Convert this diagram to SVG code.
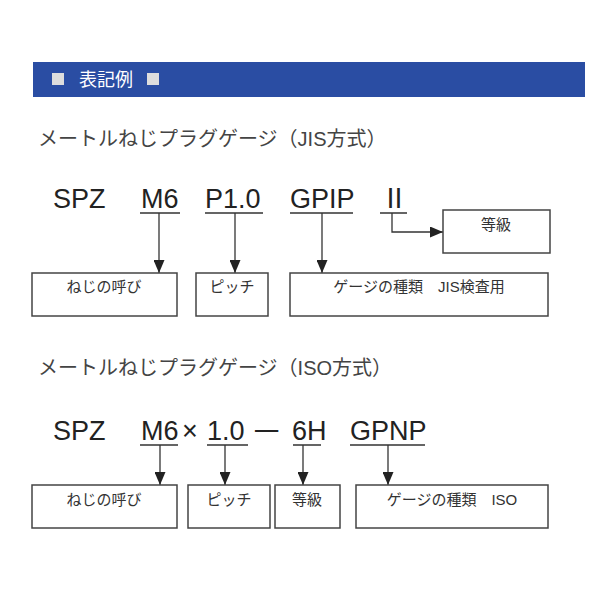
<svg xmlns="http://www.w3.org/2000/svg" width="600" height="600" viewBox="0 0 600 600">
<style>
.t{font-family:"Liberation Sans","Noto Sans CJK JP",sans-serif;fill:#222}
.big{font-size:27px}
.ttl{font-size:20px;fill:#444}
.lb{font-size:15px;fill:#333}
.bx{fill:#fff;stroke:#444;stroke-width:1.5}
.ln{fill:none;stroke:#333;stroke-width:1.3}
</style>
<defs><marker id="ah" markerWidth="13" markerHeight="11" refX="13" refY="5.5" orient="auto" markerUnits="userSpaceOnUse" viewBox="0 0 13 11"><path d="M0,0 L13,5.5 L0,11 Z" fill="#222"/></marker></defs>
<rect width="600" height="600" fill="#fff"/>
<g id="header"><rect x="33" y="62" width="552" height="35" fill="#2a4da3"/>
<rect x="52" y="73" width="12" height="12" fill="#ddd"/>
<text x="79" y="86" font-size="18" fill="#fff" font-family="Noto Sans CJK JP,sans-serif">表記例</text>
<rect x="147" y="73" width="12" height="12" fill="#ddd"/></g>
<g id="jis">
<text class="t ttl" x="38" y="146">メートルねじプラグゲージ（JIS方式）</text>
<text class="t big" x="53" y="208">SPZ</text>
<text class="t big" x="141" y="208">M6</text>
<text class="t big" x="205" y="208">P1.0</text>
<text class="t big" x="290" y="208">GPIP</text>
<text class="t big" x="381" y="208" font-family="Liberation Serif,serif">Ⅱ</text>
<path class="ln" d="M140,213H180M205,213H263M290,213H353M380,213H407"/>
</g>
<g id="connectors">
<path class="ln" d="M159,213V273" marker-end="url(#ah)"/>
<path class="ln" d="M235,213V273" marker-end="url(#ah)"/>
<path class="ln" d="M322,213V273" marker-end="url(#ah)"/>
<path class="ln" d="M392,213V232H443" marker-end="url(#ah)"/>
<path class="ln" d="M160,445V485" marker-end="url(#ah)"/>
<path class="ln" d="M225,445V485" marker-end="url(#ah)"/>
<path class="ln" d="M303,445V485" marker-end="url(#ah)"/>
<path class="ln" d="M388,445V485" marker-end="url(#ah)"/>
</g>
<g id="n-tokyu1"><rect class="bx" x="443" y="210" width="107" height="43"/><text class="t lb" x="496" y="230" text-anchor="middle">等級</text></g>
<g id="n-yobi1"><rect class="bx" x="32" y="273" width="145" height="43"/><text class="t lb" x="104" y="292" text-anchor="middle">ねじの呼び</text></g>
<g id="n-pitch1"><rect class="bx" x="196" y="273" width="72" height="43"/><text class="t lb" x="232" y="292" text-anchor="middle">ピッチ</text></g>
<g id="n-kind1"><rect class="bx" x="290" y="273" width="258" height="43"/><text class="t lb" x="419" y="292" text-anchor="middle" xml:space="preserve">ゲージの種類　JIS検査用</text></g>
<g id="iso">
<text class="t ttl" x="38" y="375">メートルねじプラグゲージ（ISO方式）</text>
<text class="t big" x="53" y="440">SPZ</text>
<text class="t big" x="141" y="440">M6</text>
<text class="t big" x="182" y="440">×</text>
<text class="t big" x="207" y="440">1.0</text>
<text class="t big" x="253" y="440" font-size="30" textLength="28" lengthAdjust="spacingAndGlyphs">−</text>
<text class="t big" x="292" y="440">6H</text>
<text class="t big" x="350" y="440">GPNP</text>
<path class="ln" d="M140,445H178M207,445H248M293,445H321M350,445H425"/>
</g>
<g id="n-yobi2"><rect class="bx" x="32" y="485" width="145" height="43"/><text class="t lb" x="104" y="505" text-anchor="middle">ねじの呼び</text></g>
<g id="n-pitch2"><rect class="bx" x="188" y="485" width="82" height="43"/><text class="t lb" x="229" y="505" text-anchor="middle">ピッチ</text></g>
<g id="n-tokyu2"><rect class="bx" x="275" y="485" width="65" height="43"/><text class="t lb" x="307" y="505" text-anchor="middle">等級</text></g>
<g id="n-kind2"><rect class="bx" x="356" y="485" width="192" height="43"/><text class="t lb" x="452" y="505" text-anchor="middle" xml:space="preserve">ゲージの種類　ISO</text></g>
</svg>
